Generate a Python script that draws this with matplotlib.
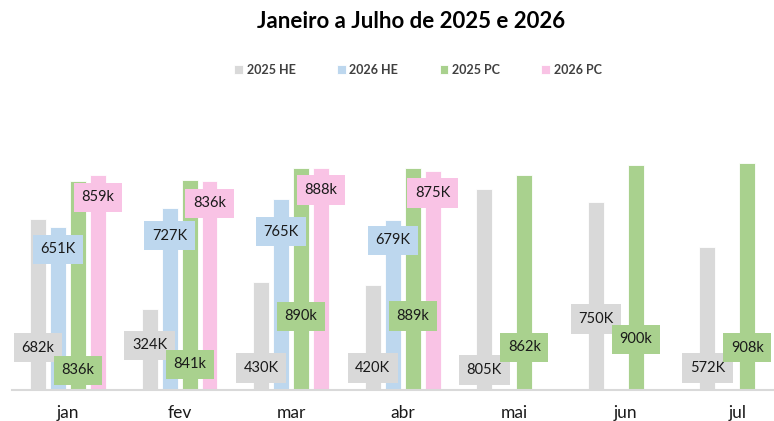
import matplotlib
matplotlib.use('Agg')
import matplotlib.pyplot as plt
import numpy as np

plt.rcParams['font.family'] = ['Lato', 'DejaVu Sans']

months = ['jan', 'fev', 'mar', 'abr', 'mai', 'jun', 'jul']
series_names = ['2025 HE', '2026 HE', '2025 PC', '2026 PC']
colors = ['#D9D9D9', '#BDD7EE', '#A9D18E', '#F9C3E5']

# valores em milhares
he_2025 = [682, 324, 430, 420, 805, 750, 572]
he_2026 = [651, 727, 765, 679, None, None, None]
pc_2025 = [836, 841, 890, 889, 862, 900, 908]
pc_2026 = [859, 836, 888, 875, None, None, None]

he_2025_lbl = ['682k', '324K', '430K', '420K', '805K', '750K', '572K']
he_2026_lbl = ['651K', '727K', '765K', '679K']
pc_2025_lbl = ['836k', '841k', '890k', '889k', '862k', '900k', '908k']
pc_2026_lbl = ['859k', '836k', '888k', '875K']

# altura onde fica cada rotulo (mesma escala das barras)
he_2025_pos = [168, 178, 86, 86, 78, 283, 86]
he_2026_pos = [563, 617, 633, 599]
pc_2025_pos = [77, 101, 294, 295, 170, 202, 168]
pc_2026_pos = [771, 746, 800, 788]

series = [he_2025, he_2026, pc_2025, pc_2026]
labels = [he_2025_lbl, he_2026_lbl, pc_2025_lbl, pc_2026_lbl]
label_pos = [he_2025_pos, he_2026_pos, pc_2025_pos, pc_2026_pos]

fig = plt.figure(figsize=(7.74, 4.21), dpi=100)
ax = fig.add_axes([12.2 / 774, 31.5 / 421, 781 / 774, 249.4 / 421])

x = np.arange(len(months))
slot = 0.179
w = 0.143

for i, vals in enumerate(series):
    xs = [x[j] + (i - 1.5) * slot for j, v in enumerate(vals) if v is not None]
    hs = [v for v in vals if v is not None]
    ax.bar(xs, hs, width=w, color=colors[i], edgecolor='white', linewidth=0.6,
           label=series_names[i], zorder=2)

for i in range(4):
    for j, txt in enumerate(labels[i]):
        ax.text(x[j] + (i - 1.5) * slot, label_pos[i][j], txt, ha='center', va='center',
                fontsize=10.5, color='#1a1a1a', zorder=5,
                bbox=dict(boxstyle='square,pad=0.52', fc=colors[i], ec='none'))

ax.set_xlim(-0.5, 6.5)
ax.set_ylim(0, 1000)
ax.set_xticks(x)
ax.set_xticklabels(months, fontsize=12.5, color='#1a1a1a')
ax.tick_params(axis='x', length=0, pad=11)
ax.set_yticks([])
for s in ['top', 'right', 'left']:
    ax.spines[s].set_visible(False)
ax.spines['bottom'].set_color('#D9D9D9')
ax.spines['bottom'].set_linewidth(1.5)
ax.patch.set_alpha(0)

fig.text(411 / 774, 1 - 22 / 421, 'Janeiro a Julho de 2025 e 2026', ha='center', va='center',
         fontsize=16, fontweight='bold', color='black')

handles, names = ax.get_legend_handles_labels()
leg = fig.legend(handles, names, loc='center', bbox_to_anchor=(418 / 774, 1 - 70 / 421),
                 ncol=4, frameon=False, handlelength=0.7, handleheight=0.7,
                 handletextpad=0.3, columnspacing=3.3,
                 prop={'weight': 'bold', 'size': 9})
for t in leg.get_texts():
    t.set_color('#404040')

fig.savefig('out.png', dpi=100)
